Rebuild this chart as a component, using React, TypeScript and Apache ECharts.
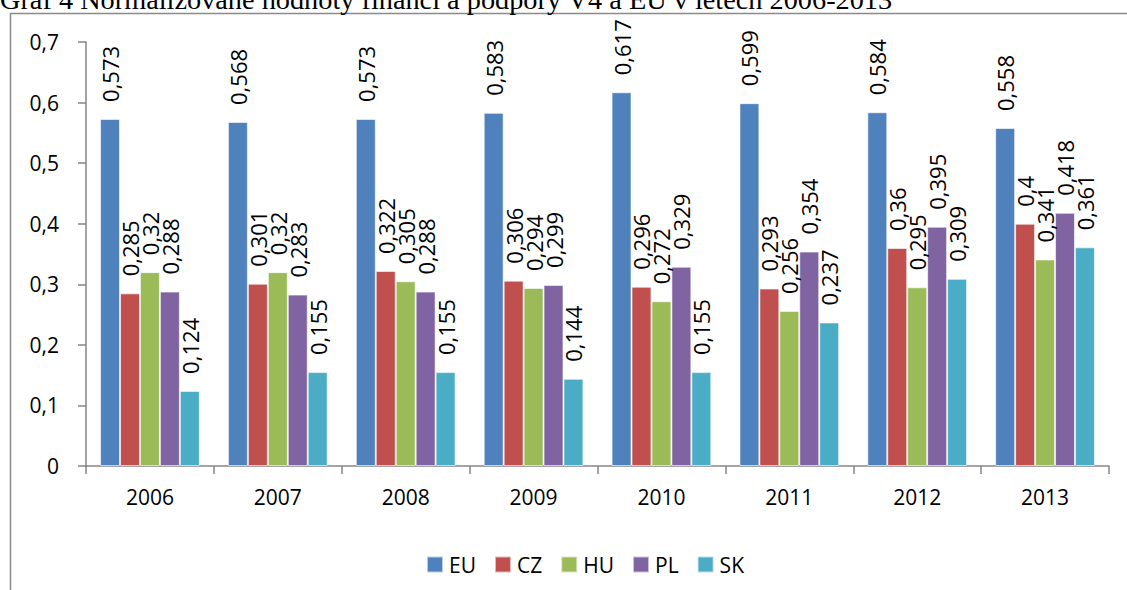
import React, { useEffect, useRef } from "react";
import * as echarts from "echarts";

const categories = ["2006", "2007", "2008", "2009", "2010", "2011", "2012", "2013"];
const seriesNames = ["EU", "CZ", "HU", "PL", "SK"];
const euValues = [0.573, 0.568, 0.573, 0.583, 0.617, 0.599, 0.584, 0.558];
const czValues = [0.285, 0.301, 0.322, 0.306, 0.296, 0.293, 0.36, 0.4];
const huValues = [0.32, 0.32, 0.305, 0.294, 0.272, 0.256, 0.295, 0.341];
const plValues = [0.288, 0.283, 0.288, 0.299, 0.329, 0.354, 0.395, 0.418];
const skValues = [0.124, 0.155, 0.155, 0.144, 0.155, 0.237, 0.309, 0.361];
const colors = ["#4F81BD", "#C0504D", "#9BBB59", "#8064A2", "#4BACC6"];
const titleText = "Graf 4 Normalizované hodnoty financí a podpory V4 a EU v letech 2006-2013";

const FONT = "'Open Sans', sans-serif";

export default function App() {
  const ref = useRef<HTMLDivElement>(null);
  useEffect(() => {
    document.body.style.margin = "0";
    const chart = echarts.init(ref.current!, null, { renderer: "svg" });
    const allValues = [euValues, czValues, huValues, plValues, skValues];
    chart.setOption({
      animation: false,
      backgroundColor: "#ffffff",
      textStyle: { fontFamily: FONT },
      graphic: [
        {
          type: "text",
          x: 0,
          y: 13,
          style: {
            text: titleText,
            fontSize: 28.3,
            fontFamily: "'Liberation Serif', 'Times New Roman', serif",
            fill: "#000",
            verticalAlign: "bottom",
            align: "left",
          },
        },
        {
          type: "rect",
          shape: { x: 10.5, y: 13.5, width: 1130, height: 600 },
          style: { fill: "none", stroke: "#8a8a8a", lineWidth: 1.5 },
          z: -1,
        },
      ],
      legend: {
        data: seriesNames,
        left: 421,
        top: 549,
        itemWidth: 16,
        itemHeight: 16,
        itemGap: 18,
        icon: "rect",
        textStyle: { fontSize: 21, fontFamily: FONT, color: "#000", padding: [0, 0, 0, 1] },
      },
      grid: { left: 86, right: 18, top: 42, bottom: 124, containLabel: false },
      xAxis: {
        type: "category",
        data: categories,
        axisLine: { lineStyle: { color: "#868686", width: 1.5 } },
        axisTick: { show: true, length: 8, alignWithLabel: false, lineStyle: { color: "#868686", width: 1.5 } },
        axisLabel: { fontSize: 21, color: "#000", margin: 20, fontFamily: FONT },
      },
      yAxis: {
        type: "value",
        min: 0,
        max: 0.7,
        interval: 0.1,
        splitLine: { show: false },
        axisLine: { show: true, lineStyle: { color: "#868686", width: 1.5 } },
        axisTick: { show: true, length: 8, lineStyle: { color: "#868686", width: 1.5 } },
        axisLabel: {
          fontSize: 21,
          color: "#000",
          margin: 27,
          fontFamily: FONT,
          formatter: (v: number) => (v === 0 ? "0" : v.toFixed(1).replace(".", ",")),
        },
      },
      series: seriesNames.map((name, i) => ({
        name,
        type: "bar",
        data: allValues[i],
        barGap: "0%",
        barCategoryGap: "22%",
        itemStyle: { color: colors[i], borderColor: "rgba(255,255,255,0.6)", borderWidth: 1 },
        label: {
          show: true,
          position: "top",
          rotate: 90,
          align: "left",
          verticalAlign: "middle",
          distance: 17,
          fontSize: 22,
          fontFamily: FONT,
          color: "#000",
          formatter: (p: any) => String(p.value).replace(".", ","),
        },
      })),
    });
    return () => chart.dispose();
  }, []);
  return <div ref={ref} style={{ width: 1127, height: 590 }} />;
}
